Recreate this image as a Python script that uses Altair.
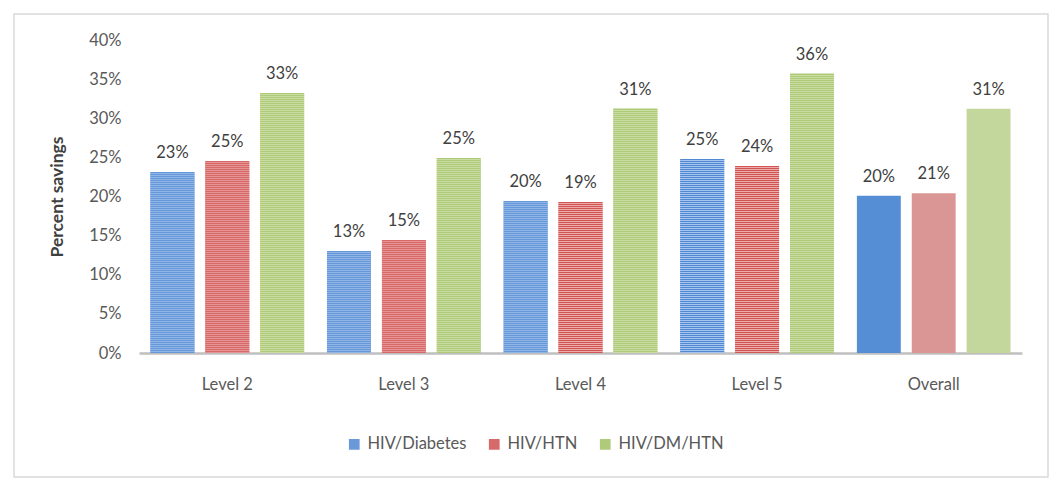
import altair as alt
import pandas as pd

categories = ["Level 2", "Level 3", "Level 4", "Level 5", "Overall"]
series = ["HIV/Diabetes", "HIV/HTN", "HIV/DM/HTN"]
values = {
    "HIV/Diabetes": [23.1, 13.0, 19.4, 24.8, 20.1],
    "HIV/HTN": [24.5, 14.4, 19.3, 23.9, 20.4],
    "HIV/DM/HTN": [33.2, 24.9, 31.2, 35.7, 31.2],
}
labels = {
    "HIV/Diabetes": ["23%", "13%", "20%", "25%", "20%"],
    "HIV/HTN": ["25%", "15%", "19%", "24%", "21%"],
    "HIV/DM/HTN": ["33%", "25%", "31%", "36%", "31%"],
}
y_ticks = [0, 5, 10, 15, 20, 25, 30, 35, 40]

stripe_dark = ["#5288d2", "#d05654", "#a2c164"]
stripe_light = ["#a6c5ee", "#eeaaa8", "#d6e6b8"]
legend_cols = ["#6a98d8", "#d6696a", "#b0ca7c"]
solid_cols = ["#558ed5", "#d99694", "#c3d69b"]

rows = []
for s in series:
    for c, v, l in zip(categories, values[s], labels[s]):
        rows.append({"category": c, "series": s, "value": v, "label": l})
df = pd.DataFrame(rows)

W, H = 883, 313
FONT = "Lato"
FS = 16.5

xenc = alt.X("category:N", sort=categories,
             scale=alt.Scale(paddingInner=0.13, paddingOuter=0.065),
             axis=alt.Axis(title=None, labelAngle=0, ticks=False, domain=True,
                           domainColor="#bfbfbf", domainWidth=2.5, grid=False,
                           labelPadding=23, labelFontSize=FS, labelColor="#595959",
                           labelFont=FONT))
xoff = alt.XOffset("series:N", sort=series, scale=alt.Scale(paddingInner=0.2))
yenc = alt.Y("value:Q", scale=alt.Scale(domain=[0, 40], nice=False),
             axis=alt.Axis(title="Percent savings", values=y_ticks,
                           labelExpr="datum.value + '%'", grid=False, ticks=False,
                           domain=False, labelPadding=18, labelFontSize=FS,
                           labelColor="#595959", labelFont=FONT,
                           titleFont=FONT, titleFontSize=17.5, titleFontWeight="bold",
                           titleColor="#404040", titlePadding=22))

base = alt.Chart(df)

bars_levels = base.transform_filter("datum.category != 'Overall'").mark_bar().encode(
    x=xenc, xOffset=xoff, y=yenc, y2=alt.Y2(datum=0),
    fill=alt.Fill("series:N", sort=series,
                  scale=alt.Scale(domain=series, range=legend_cols),
                  legend=alt.Legend(title=None, orient="none", direction="horizontal",
                                    legendX=207, legendY=396, symbolType="square",
                                    symbolSize=115, symbolStrokeWidth=0,
                                    labelFontSize=FS, labelColor="#595959",
                                    labelFont=FONT, labelOffset=5, columnPadding=19,
                                    padding=0)),
)

bars_bg = base.transform_filter("datum.category != 'Overall'").mark_bar().encode(
    x=xenc, xOffset=xoff, y=yenc, y2=alt.Y2(datum=0),
    color=alt.Color("series:N", sort=series,
                    scale=alt.Scale(domain=series, range=stripe_light), legend=None),
)

stripes = base.transform_filter("datum.category != 'Overall'").mark_rule(
    strokeWidth=43.9, strokeDash=[1, 1], strokeCap="butt"
).encode(
    x=xenc, xOffset=xoff, y=yenc, y2=alt.Y2(datum=0),
    stroke=alt.Stroke("series:N", sort=series,
                      scale=alt.Scale(domain=series, range=stripe_dark), legend=None),
)

bars_overall = base.transform_filter("datum.category == 'Overall'").mark_bar().encode(
    x=xenc, xOffset=xoff, y=yenc, y2=alt.Y2(datum=0),
    color=alt.Color("series:N", sort=series,
                    scale=alt.Scale(domain=series, range=solid_cols), legend=None),
)

text = base.mark_text(baseline="alphabetic", dy=-14, fontSize=FS,
                      color="#404040", font=FONT).encode(
    x=xenc, xOffset=xoff, y=yenc, text="label:N",
)

frame = alt.Chart(pd.DataFrame({"a": [0]})).mark_rect(
    filled=False, stroke="#d9d9d9", strokeWidth=1.5
).encode(
    x=alt.value(-125), x2=alt.value(909), y=alt.value(-26), y2=alt.value(437)
)

chart = alt.layer(
    frame, bars_levels, bars_bg, stripes, bars_overall, text
).resolve_scale(
    color="independent", fill="independent", stroke="independent"
).properties(
    width=W, height=H,
    background="white",
    autosize=alt.AutoSizeParams(type="none"),
    padding={"left": 131, "top": 32, "right": 30, "bottom": 125},
).configure_view(strokeWidth=0)

chart.save("out.html", embed_options={"renderer": "svg", "actions": False})
